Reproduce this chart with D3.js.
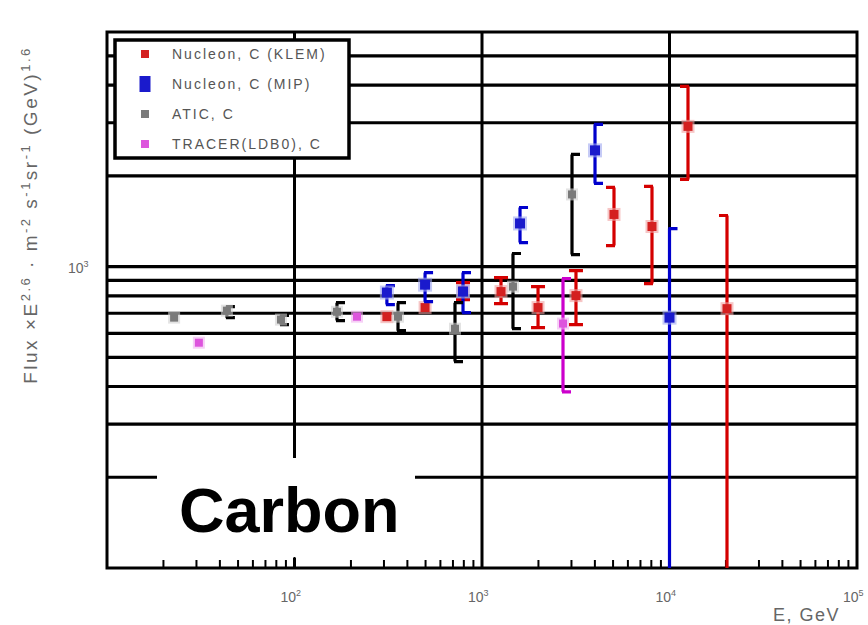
<!DOCTYPE html>
<html>
<head>
<meta charset="utf-8">
<script src="https://cdn.jsdelivr.net/npm/d3@7"></script>
<style>
  body { margin: 0; background: #fff; }
  svg { display: block; font-family: "Liberation Sans", Arial, sans-serif; }
</style>
</head>
<body>
<svg id="chart" width="868" height="625"></svg>
<script>
// Nucleon KLEM (red)
const klemEnergy = [311, 497, 792, 1263, 1990, 3171, 5058, 8065, 12550, 20260];
const klemFlux   = [682, 731, 832, 826, 731, 801, 1489, 1358, 2918, 725];
const klemLo     = [682, 731, 777, 754, 627, 642, 1174, 878, 1945, 100];
const klemHi     = [682, 731, 885, 919, 858, 970, 1830, 1844, 3963, 1477];

// Nucleon MIP (blue)
const mipEnergy = [311, 497, 792, 1595, 4006, 10000];
const mipFlux   = [820, 871, 826, 1390, 2429, 677];
const mipLo     = [748, 765, 703, 1201, 1887, 100];
const mipHi     = [865, 955, 955, 1570, 2963, 1337];

// ATIC
const aticEnergy = [22.8, 43.6, 84.7, 168.5, 356.5, 717.8, 1463, 3020];
const aticFlux   = [677, 714, 667, 708, 682, 622, 858, 1735];
const aticLo     = [677, 677, 642, 662, 613, 484, 622, 1096];
const aticHi     = [677, 736, 688, 759, 759, 759, 1105, 2356];

// TRACER (LDB)
const tracerEnergy = [30.9, 215.4, 2704];
const tracerFlux   = [559, 682, 647];
const tracerLo     = [559, 682, 384];
const tracerHi     = [559, 682, 912];

const legendLabels = ["Nucleon, C (KLEM)", "Nucleon, C (MIP)", "ATIC, C", "TRACER(LDB0), C"];
const yGridValues = [200, 300, 400, 500, 600, 700, 800, 900, 1000, 2000, 3000, 4000, 5000];
const xDecades = [100, 1000, 10000];
const xTickLabels = [["10", "2"], ["10", "3"], ["10", "4"], ["10", "5"]];
const xTickValues = [100, 1000, 10000, 100000];

const svg = d3.select("#chart");
const plot = {left: 107, right: 857, top: 32, bottom: 568};

const x = d3.scaleLog().domain([10, 100000]).range([plot.left, plot.right]);
const y = d3.scaleLog().domain([100, 6000]).range([plot.bottom, plot.top]);

const zip = (e, f, lo, hi) => e.map((d, i) => ({e: d, f: f[i], lo: lo[i], hi: hi[i]}));

const series = [
    {name: legendLabels[0], data: zip(klemEnergy, klemFlux, klemLo, klemHi), bar: "#d40000", fill: "#d42020", halo: "#f0a0a0", size: 9, cap: d => d.e < 5000 ? "both" : "left"},
    {name: legendLabels[1], data: zip(mipEnergy, mipFlux, mipLo, mipHi), bar: "#0000cc", fill: "#1a1acc", halo: "#a0a8f0", size: 10, cap: () => "right"},
    {name: legendLabels[2], data: zip(aticEnergy, aticFlux, aticLo, aticHi), bar: "#000", fill: "#7a7a7a", halo: "#d0d0d0", size: 8, cap: () => "right"},
    {name: legendLabels[3], data: zip(tracerEnergy, tracerFlux, tracerLo, tracerHi), bar: "#cc00cc", fill: "#dd55dd", halo: "#f0b0f0", size: 8, cap: () => "right"}
];

// horizontal grid
svg.append("g")
    .selectAll("line")
    .data(yGridValues)
    .join("line")
    .attr("x1", plot.left).attr("x2", plot.right)
    .attr("y1", d => y(d)).attr("y2", d => y(d))
    .attr("stroke", "#000").attr("stroke-width", 3.2);

// vertical decade lines
svg.append("g")
    .selectAll("line")
    .data(xDecades)
    .join("line")
    .attr("x1", d => x(d)).attr("x2", d => x(d))
    .attr("y1", plot.top).attr("y2", plot.bottom)
    .attr("stroke", "#000").attr("stroke-width", 3);

// frame
svg.append("rect")
    .attr("x", plot.left).attr("y", plot.top)
    .attr("width", plot.right - plot.left).attr("height", plot.bottom - plot.top)
    .attr("fill", "none").attr("stroke", "#000").attr("stroke-width", 3);

// white box behind the Carbon label
svg.append("rect")
    .attr("x", 157).attr("y", 458)
    .attr("width", 258).attr("height", 100)
    .attr("fill", "#fff");

svg.append("text")
    .attr("x", 179).attr("y", 532)
    .attr("font-size", 63).attr("font-weight", "bold")
    .attr("fill", "#000")
    .text("Carbon");

// minor ticks along the bottom axis
const minor = [];
for (let dec = 10; dec < 100000; dec *= 10) {
    for (let k = 2; k <= 10; k++) minor.push(dec * k);
}
svg.append("g")
    .selectAll("line")
    .data(minor)
    .join("line")
    .attr("x1", d => x(d)).attr("x2", d => x(d))
    .attr("y1", plot.bottom)
    .attr("y2", d => Math.abs(Math.log10(d) % 1) < 1e-6 ? plot.bottom - 11 : plot.bottom - 8)
    .attr("stroke", "#000").attr("stroke-width", 2);

// data
const capW = 7;
series.forEach(s => {
    const g = svg.append("g");
    const bars = s.data.filter(d => d.hi > d.lo);

    const capPath = (d, v) => {
        const cx = x(d.e), cy = y(v), side = s.cap(d);
        if (side === "both") return `M${cx - capW},${cy}H${cx + capW}`;
        if (side === "left") return `M${cx - capW - 1},${cy}H${cx + 1}`;
        return `M${cx - 1},${cy}H${cx + capW + 1}`;
    };

    g.selectAll("path.bar")
        .data(bars)
        .join("path")
        .attr("class", "bar")
        .attr("d", d => `M${x(d.e)},${Math.min(y(d.lo), plot.bottom)}V${y(d.hi)}` + capPath(d, d.hi) +
            (y(d.lo) < plot.bottom - 2 ? capPath(d, d.lo) : ""))
        .attr("fill", "none")
        .attr("stroke", s.bar)
        .attr("stroke-width", 3.2);

    g.selectAll("rect.halo")
        .data(s.data)
        .join("rect")
        .attr("class", "halo")
        .attr("x", d => x(d.e) - s.size / 2 - 2).attr("y", d => y(d.f) - s.size / 2 - 2)
        .attr("width", s.size + 4).attr("height", s.size + 4)
        .attr("fill", s.halo).attr("opacity", 0.6);

    g.selectAll("rect.mark")
        .data(s.data)
        .join("rect")
        .attr("class", "mark")
        .attr("x", d => x(d.e) - s.size / 2).attr("y", d => y(d.f) - s.size / 2)
        .attr("width", s.size).attr("height", s.size)
        .attr("fill", s.fill);
});

// legend
const legend = svg.append("g");
legend.append("rect")
    .attr("x", 115).attr("y", 40)
    .attr("width", 234).attr("height", 118)
    .attr("fill", "#fff").attr("stroke", "#000").attr("stroke-width", 3.5);

const rowY = i => 54 + i * 30;
series.forEach((s, i) => {
    const w = i === 1 ? 11 : 8, h = i === 1 ? 16 : 8;
    legend.append("rect")
        .attr("x", 145 - w / 2).attr("y", rowY(i) - h / 2)
        .attr("width", w).attr("height", h)
        .attr("fill", s.fill);
    legend.append("text")
        .attr("x", 172).attr("y", rowY(i) + 5)
        .attr("font-size", 14)
        .attr("letter-spacing", 2)
        .attr("fill", "#555")
        .text(s.name);
});

// x tick labels
const xl = svg.append("g")
    .selectAll("text")
    .data(xTickValues)
    .join("text")
    .attr("x", d => x(d) - 14)
    .attr("y", 602)
    .attr("font-size", 14)
    .attr("fill", "#666");
xl.append("tspan").text((d, i) => xTickLabels[i][0]);
xl.append("tspan").attr("dy", -6).attr("font-size", 9).text((d, i) => xTickLabels[i][1]);

// y tick label
const yl = svg.append("text")
    .attr("x", 68).attr("y", y(1000) + 6)
    .attr("font-size", 14)
    .attr("fill", "#666");
yl.append("tspan").text("10");
yl.append("tspan").attr("dy", -6).attr("font-size", 9).text("3");

// axis titles
svg.append("text")
    .attr("x", 773).attr("y", 621)
    .attr("font-size", 18)
    .attr("letter-spacing", 1.5)
    .attr("fill", "#666")
    .text("E, GeV");

const yt = svg.append("text")
    .attr("transform", "translate(37,215) rotate(-90)")
    .attr("text-anchor", "middle")
    .attr("font-size", 19)
    .attr("letter-spacing", 2.5)
    .attr("fill", "#666");
const parts = [["Flux ×E", 0], ["2.6", 1], [" · m", 0], ["-2", 1], [" s", 0], ["-1", 1], ["sr", 0], ["-1", 1], [" (GeV)", 0], ["1.6", 1]];
let up = false;
parts.forEach(([t, sup]) => {
    const ts = yt.append("tspan").text(t);
    if (sup && !up) { ts.attr("dy", -7).attr("font-size", 13); up = true; }
    else if (sup) { ts.attr("font-size", 13); }
    else if (up) { ts.attr("dy", 7); up = false; }
});
</script>
</body>
</html>
